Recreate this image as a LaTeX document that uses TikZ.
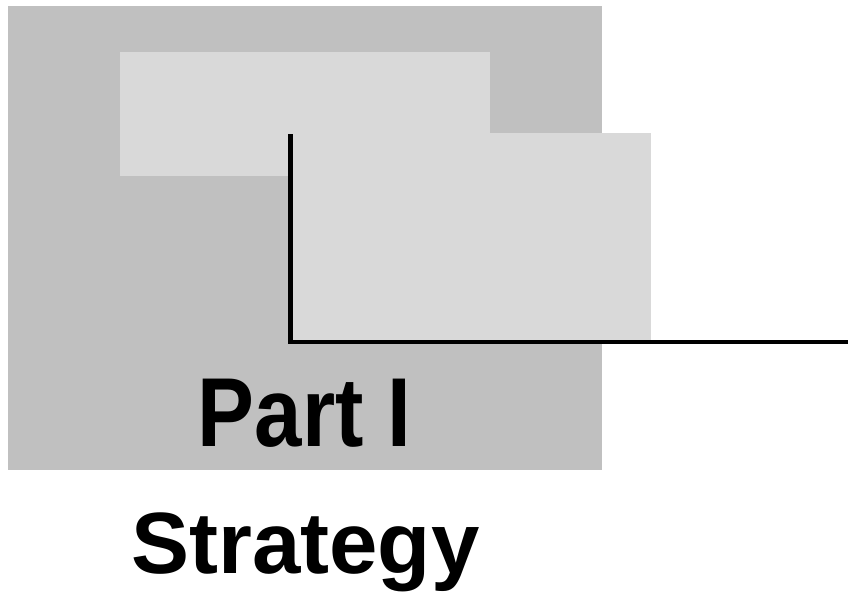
\documentclass[tikz,border=0pt]{standalone}
\usepackage{fontspec}
\setmainfont{Liberation Sans}
\usepackage{xcolor}
\usepackage{tikz}
\usetikzlibrary{positioning}
\definecolor{darkpanel}{RGB}{192,192,192}
\definecolor{lightpanel}{RGB}{217,217,217}
\begin{document}
\begin{tikzpicture}[x=1pt, y=-1pt, every node/.style={inner sep=0pt, outer sep=0pt}]
        \useasboundingbox (0,0) rectangle (851,598);
        % Panel
        \node[fill=darkpanel, minimum width=594pt, minimum height=464pt, anchor=north west] (panel) at (8,6) {};
        % Back sheet
        \node[fill=lightpanel, minimum width=370pt, minimum height=124pt, anchor=north west] (backsheet) at (120,52) {};
        % Front sheet
        \node[fill=lightpanel, minimum width=363pt, minimum height=210pt, anchor=north west] (frontsheet) at (288,133) {};
        % Corner
        \coordinate (top) at (290.5,134);
        \coordinate (corner) at (290.5,343.5);
        \coordinate (start) at (288,342);
        \coordinate (tail) at (848,342);
        \draw[line width=5pt] (top) -- (corner);
        \draw[line width=3.2pt] (start) -- (tail);
        % Titles
        \node[anchor=base, font=\bfseries\fontsize{98}{98}\selectfont] (part) at (304.5,446) {\scalebox{0.87}[1]{Part I}};
        \node[anchor=base, font=\bfseries\fontsize{87}{87}\selectfont] (title) at (305.5,573) {Strategy};
\end{tikzpicture}
\end{document}
